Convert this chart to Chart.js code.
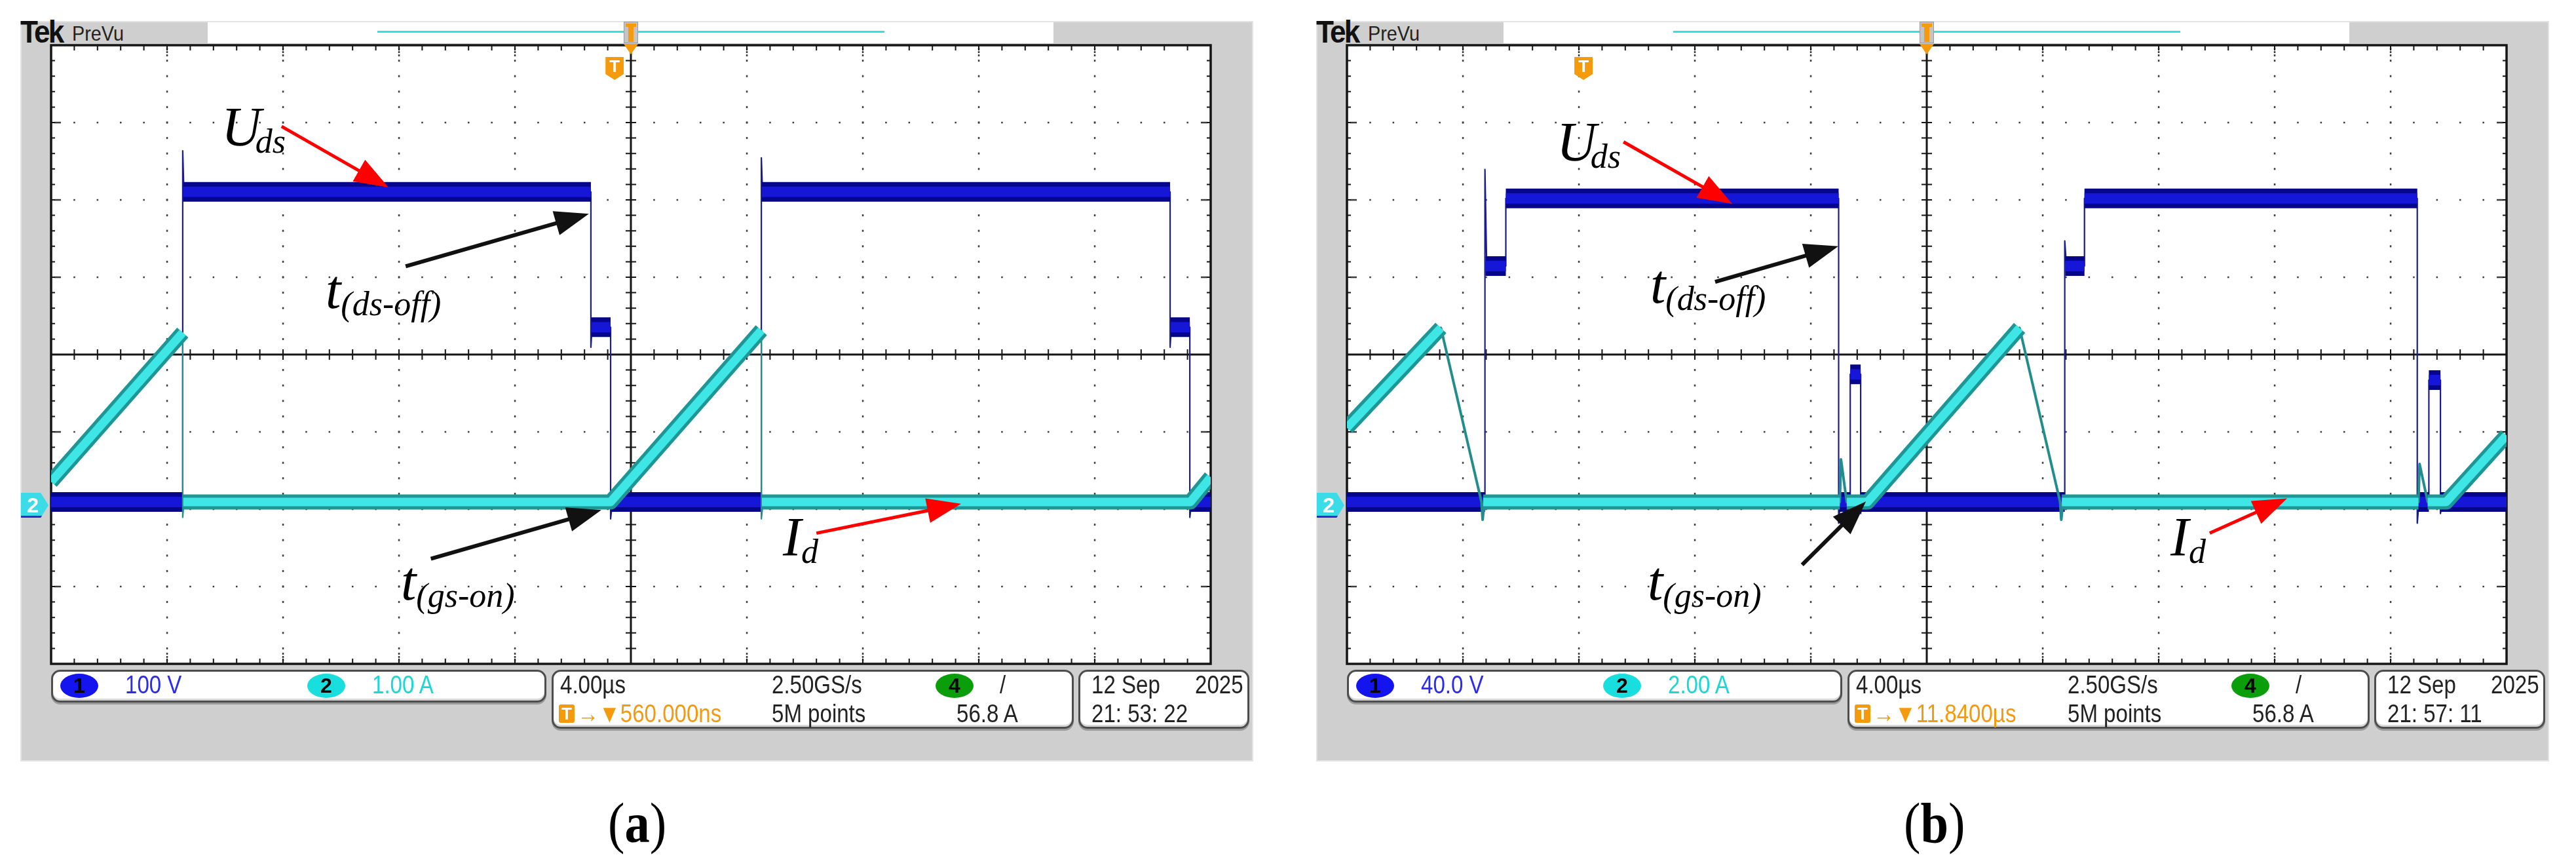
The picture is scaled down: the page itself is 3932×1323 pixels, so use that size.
<!DOCTYPE html>
<html>
<head>
<meta charset="utf-8">
<title>Uds / Id switching waveforms</title>
<script src="https://cdn.jsdelivr.net/npm/chart.js@4.4.1/dist/chart.umd.min.js"></script>
<style>
  html, body { margin: 0; padding: 0; background: #fff; }
  body { position: relative; width: 3932px; height: 1323px; overflow: hidden; }
  .abs { position: absolute; }
  .bezel { background: #cfcfcf; border: 2px solid #e3e3e3; box-sizing: border-box; }
  .strip { background: #fff; }
  .tek { font: bold 49px "Liberation Sans", Arial, sans-serif; line-height: 49px; color: #111; letter-spacing: -3px; transform: scaleX(0.9); transform-origin: 0 0; }
  .prevu { font: 32px "Liberation Sans", Arial, sans-serif; line-height: 32px; color: #222; transform: scaleX(0.9); transform-origin: 0 0; }
  .box { background: #fff; border: 3px solid #4d4d4d; border-radius: 14px; box-sizing: border-box; box-shadow: inset 0 -3px 0 #d8d8d8, 0 3px 0 #9a9a9a; }
  .st { font: 38px "Liberation Sans", Arial, sans-serif; line-height: 38px; white-space: nowrap; color: #222; transform: scaleX(0.87); transform-origin: 0 0; }
  .chip { border-radius: 50%; font: bold 32px "Liberation Sans", Arial, sans-serif; line-height: 37px; color: #000; text-align: center; }
  .ticon { background: #f59a0c; color: #fff; font: bold 26px "Liberation Sans", Arial, sans-serif; line-height: 28px; text-align: center; border-radius: 3px; }
  .ann { font: italic 84px "Liberation Serif", "Times New Roman", serif; line-height: 84px; color: #000; white-space: nowrap; }
  .ann .s { font-size: 52px; position: relative; top: 11px; }
  .cap { font: 86px "Liberation Serif", "Times New Roman", serif; line-height: 86px; color: #000; white-space: nowrap; transform: scaleX(0.89); transform-origin: 0 0; }
</style>
</head>
<body>
<script>
// time base: 4.00 us/div, 10 div on screen
const timeMin = 0, timeMax = 40;
// ground marker of both channels, in divisions from screen centre
const gndDiv = -1.906;

// ---- (a) ch1 100 V/div, ch2 1.00 A/div ----
const voltsPerDivA = 100, ampsPerDivA = 1.0, trigDelayA = 0.56;
// Uds thin trace (edges, spikes)
const udsA_t = [0, 4.54, 4.54, 4.58, 18.62, 18.62, 18.66, 19.30, 19.30, 19.36, 24.50, 24.50, 24.54, 38.60, 38.60, 38.64, 39.28, 39.28, 39.34, 40];
const udsA_v = [0, 0, 454, 401, 401, 200, 226, 226, -22, 0, 0, 445, 401, 401, 200, 226, 226, -20, 0, 0];
// Uds noisy levels (drawn as a wide band)
const udsA_bandT = [0, 4.54, null, 4.56, 18.62, null, 18.64, 19.30, null, 19.32, 24.50, null, 24.52, 38.60, null, 38.62, 39.28, null, 39.30, 40];
const udsA_bandV = [0, 0, null, 401, 401, null, 226, 226, null, 0, 0, null, 401, 401, null, 226, 226, null, 0, 0];
// Id thin trace
const idA_t = [0, 4.54, 4.54, 4.58, 19.30, 24.50, 24.50, 24.56, 39.30, 40];
const idA_v = [0.26, 2.19, -0.20, 0, 0, 2.22, -0.22, 0, 0, 0.32];
// Id band (ramps and flat part)
const idA_bandT = [0, 4.54, null, 4.56, 19.30, 24.50, null, 24.52, 39.30, 40];
const idA_bandV = [0.26, 2.19, null, 0, 0, 2.22, null, 0, 0, 0.32];

// ---- (b) ch1 40.0 V/div, ch2 2.00 A/div ----
const voltsPerDivB = 40, ampsPerDivB = 2.0, trigDelayB = 11.84;
const udsB_t = [0, 4.76, 4.76, 4.82, 5.48, 5.48, 16.96, 16.96, 17.02, 17.36, 17.36, 17.72, 17.72, 17.78, 24.76, 24.76, 24.82, 25.44, 25.44, 36.92, 36.92, 36.98, 37.32, 37.32, 37.72, 37.72, 37.78, 40];
const udsB_v = [0, 0, 172, 122, 122, 157, 157, -11, 0, 0, 66, 66, -6, 0, 0, 135, 122, 122, 157, 157, -11, 0, 0, 63, 63, -6, 0, 0];
const udsB_bandT = [0, 4.76, null, 4.78, 5.48, null, 5.48, 16.96, null, 16.98, 17.36, null, 17.36, 17.72, null, 17.72, 24.76, null, 24.78, 25.44, null, 25.44, 36.92, null, 36.94, 37.32, null, 37.32, 37.72, null, 37.72, 40];
const udsB_bandV = [0, 0, null, 122, 122, null, 157, 157, null, 0, 0, null, 66, 66, null, 0, 0, null, 122, 122, null, 157, 157, null, 0, 0, null, 63, 63, null, 0, 0];
const idB_t = [0, 3.24, 4.64, 4.68, 4.74, 17.0, 17.04, 17.24, 17.96, 23.2, 24.6, 24.64, 24.7, 36.96, 37.0, 37.28, 37.92, 40];
const idB_v = [1.92, 4.5, 0, -0.46, 0, 0, 1.1, 0, 0, 4.5, 0, -0.46, 0, 0, 0.98, 0, 0, 1.72];
const idB_bandT = [0, 3.24, null, 4.70, 17.0, null, 17.24, 17.96, 23.2, null, 24.66, 36.96, null, 37.28, 37.92, 40];
const idB_bandV = [1.92, 4.5, null, 0, 0, null, 0, 0, 4.5, null, 0, 0, null, 0, 0, 1.72];

// status bar readouts
const statusA = ["100 V", "1.00 A", "4.00\u00b5s", "\u2192\u25bc560.000ns", "2.50GS/s", "5M points", "56.8 A", "12 Sep", "2025", "21: 53: 22"];
const statusB = ["40.0 V", "2.00 A", "4.00\u00b5s", "\u2192\u25bc11.8400\u00b5s", "2.50GS/s", "5M points", "56.8 A", "12 Sep", "2025", "21: 57: 11"];

// annotation arrows: tail (t, div) -> tip (t, div)
const arrowsA_t1 = [7.95, 12.23, 13.1, 26.4];
const arrowsA_y1 = [2.95, 1.14, -2.64, -2.31];
const arrowsA_t2 = [11.64, 18.55, 18.98, 31.39];
const arrowsA_y2 = [2.16, 1.82, -2.01, -1.93];
const arrowsB_t1 = [9.54, 12.70, 15.7, 29.76];
const arrowsB_y1 = [2.75, 0.94, -2.72, -2.31];
const arrowsB_t2 = [13.29, 16.95, 17.90, 32.43];
const arrowsB_y2 = [1.95, 1.40, -1.90, -1.86];
const arrowColors = ["#ff0000", "#111111", "#111111", "#ff0000"];

function pts(ts, vs) {
    return ts.map((t, i) => ({ x: t === null ? ts[i - 1] : t, y: vs[i] }));
}

function el(cls, left, top, w, h, css) {
    const d = document.createElement("div");
    d.className = "abs " + (cls || "");
    d.style.left = left + "px";
    d.style.top = top + "px";
    if (w != null) d.style.width = w + "px";
    if (h != null) d.style.height = h + "px";
    if (css) Object.assign(d.style, css);
    document.body.appendChild(d);
    return d;
}

function drawArrow(ctx, x1, y1, x2, y2, color, shaft, headLen, headHalf) {
    const a = Math.atan2(y2 - y1, x2 - x1);
    const bx = x2 - headLen * Math.cos(a), by = y2 - headLen * Math.sin(a);
    ctx.strokeStyle = color;
    ctx.lineWidth = shaft;
    ctx.lineCap = "butt";
    ctx.beginPath();
    ctx.moveTo(x1, y1);
    ctx.lineTo(bx + 2 * Math.cos(a), by + 2 * Math.sin(a));
    ctx.stroke();
    ctx.fillStyle = color;
    ctx.beginPath();
    ctx.moveTo(x2, y2);
    ctx.lineTo(bx + headHalf * Math.sin(a), by - headHalf * Math.cos(a));
    ctx.lineTo(bx - headHalf * Math.sin(a), by + headHalf * Math.cos(a));
    ctx.closePath();
    ctx.fill();
}

// scope graticule: 10 x 8 div, 5 minor steps per div
const graticule = {
    id: "graticule",
    beforeDatasetsDraw(chart) {
        const { ctx, chartArea: a, scales } = chart;
        const x = scales.x, yd = scales.yd;
        ctx.save();
        ctx.fillStyle = "#fff";
        ctx.fillRect(a.left, a.top, a.right - a.left, a.bottom - a.top);
        ctx.fillStyle = "#3c3c3c";
        for (let i = 1; i < 10; i++) {
            if (i === 5) continue;
            const px = x.getPixelForValue(i * 4);
            for (let k = 1; k < 40; k++) {
                ctx.fillRect(px - 1.2, yd.getPixelForValue(-4 + k * 0.2) - 1.5, 2.5, 3);
            }
            for (let k = 0; k < 3; k++) {
                ctx.fillRect(px - 1.2, a.top + 4 + k * 5, 2.5, 3);
                ctx.fillRect(px - 1.2, a.bottom - 7 - k * 5, 2.5, 3);
            }
        }
        for (let j = -3; j <= 3; j++) {
            if (j === 0) continue;
            const py = yd.getPixelForValue(j);
            for (let k = 1; k < 50; k++) {
                ctx.fillRect(x.getPixelForValue(k * 0.8) - 1.2, py - 1.2, 2.5, 2.5);
            }
            ctx.fillRect(a.left + 5, py - 1.2, 10, 2.5);
            ctx.fillRect(a.right - 15, py - 1.2, 10, 2.5);
        }
        // centre cross with minor ticks
        const cx = x.getPixelForValue(20), cy = yd.getPixelForValue(0);
        ctx.strokeStyle = "#151515";
        ctx.lineWidth = 3;
        ctx.beginPath();
        ctx.moveTo(a.left, cy); ctx.lineTo(a.right, cy);
        ctx.moveTo(cx, a.top); ctx.lineTo(cx, a.bottom);
        ctx.stroke();
        ctx.lineWidth = 2;
        ctx.beginPath();
        for (let k = 1; k < 50; k++) {
            const px = x.getPixelForValue(k * 0.8);
            ctx.moveTo(px, cy - 8); ctx.lineTo(px, cy + 8);
            ctx.moveTo(px, a.top); ctx.lineTo(px, a.top + 8);
            ctx.moveTo(px, a.bottom); ctx.lineTo(px, a.bottom - 8);
        }
        for (let k = 1; k < 40; k++) {
            const py = yd.getPixelForValue(-4 + k * 0.2);
            ctx.moveTo(cx - 8, py); ctx.lineTo(cx + 8, py);
            ctx.moveTo(a.left, py); ctx.lineTo(a.left + 6, py);
            ctx.moveTo(a.right, py); ctx.lineTo(a.right - 6, py);
        }
        ctx.stroke();
        ctx.lineWidth = 3.5;
        ctx.strokeRect(a.left, a.top, a.right - a.left, a.bottom - a.top);
        ctx.restore();
    },
    afterDatasetsDraw(chart, args, opts) {
        const { ctx, scales } = chart;
        const x = scales.x, yd = scales.yd;
        ctx.save();
        opts.t1.forEach((t, i) => {
            const red = opts.colors[i] === "#ff0000";
            drawArrow(ctx, x.getPixelForValue(t), yd.getPixelForValue(opts.y1[i]),
                x.getPixelForValue(opts.t2[i]), yd.getPixelForValue(opts.y2[i]),
                opts.colors[i], red ? 5 : 6, 52, 19);
        });
        ctx.restore();
    }
};

function buildPanel(X, p) {
    const P = 78 + X; // plot left edge
    el("bezel", 31 + X, 32, 1882, 1130);
    el("strip", 317 + X, 34, 1291, 32);
    el("tek", 31 + X, 24).textContent = "Tek";
    el("prevu", 110 + X, 35).textContent = "PreVu";
    el("", 576 + X, 47, 774, 3, { background: "#2fe3e3" });

    const canvas = document.createElement("canvas");
    canvas.width = 1798; canvas.height = 972;
    canvas.className = "abs";
    canvas.style.left = (P - 14) + "px";
    canvas.style.top = "55px";
    document.body.appendChild(canvas);

    const y1min = (-4 - gndDiv) * p.vpd, y1max = (4 - gndDiv) * p.vpd;
    const y2min = (-4 - gndDiv) * p.apd, y2max = (4 - gndDiv) * p.apd;
    const line = (data, axis, color, width, order) => ({
        data, yAxisID: axis, borderColor: color, borderWidth: width, order,
        pointRadius: 0, tension: 0, fill: false, spanGaps: false,
        borderCapStyle: "butt", borderJoinStyle: "round", clip: 0
    });

    const chart = new Chart(canvas.getContext("2d"), {
        type: "line",
        data: {
            datasets: [
                line(pts(p.udsT, p.udsV), "y1", "#1c1c8c", 2.2, 6),
                line(pts(p.udsBandT, p.udsBandV), "y1", "#06068a", 30, 5),
                line(pts(p.udsBandT, p.udsBandV), "y1", "#1616d8", 16, 4),
                line(pts(p.idT, p.idV), "y2", "#238c8c", p.idThin, 3),
                line(pts(p.idBandT, p.idBandV), "y2", "#1f9696", 23, 2),
                line(pts(p.idBandT, p.idBandV), "y2", "#3fe6e6", 13, 1)
            ]
        },
        options: {
            responsive: false,
            animation: false,
            devicePixelRatio: 1,
            layout: { padding: 14 },
            events: [],
            scales: {
                x: { type: "linear", min: timeMin, max: timeMax, display: false },
                yd: { type: "linear", min: -4, max: 4, display: false },
                y1: { type: "linear", min: y1min, max: y1max, display: false },
                y2: { type: "linear", min: y2min, max: y2max, display: false }
            },
            plugins: {
                legend: { display: false },
                tooltip: { enabled: false },
                graticule: { t1: p.at1, y1: p.ay1, t2: p.at2, y2: p.ay2, colors: arrowColors }
            }
        },
        plugins: [graticule]
    });

    // trigger position markers from the scale
    const cx = chart.scales.x.getPixelForValue(20) + P - 14;
    const tx = chart.scales.x.getPixelForValue(20 - p.delay) + P - 14;
    el("", cx - 11, 33, 22, 33, { background: "#c4c4c4", border: "1px solid #9a9a9a", boxSizing: "border-box" });
    el("", cx - 4, 38, 8, 26, { background: "#f59a0c" });
    el("", cx - 8, 36, 16, 5, { background: "#f59a0c" });
    el("", cx - 11, 67, 22, 16, { background: "#f59a0c", clipPath: "polygon(0 0,100% 0,50% 100%)" });
    const tm = el("", tx - 14, 87, 28, 35, { background: "#f59a0c", clipPath: "polygon(0 0,100% 0,100% 74%,50% 100%,0 74%)",
        color: "#fff", font: "bold 26px 'Liberation Sans', Arial, sans-serif", lineHeight: "28px", textAlign: "center" });
    tm.textContent = "T";

    // ch2 ground marker
    const g = el("", P - 46, 752, 42, 38, { background: "#3cdbe8", clipPath: "polygon(0 0,72% 0,100% 50%,72% 100%,0 100%)",
        color: "#fff", font: "bold 32px 'Liberation Sans', Arial, sans-serif", lineHeight: "38px", paddingLeft: "9px", boxSizing: "border-box",
        borderBottom: "3px solid #2a2ad0" });
    g.textContent = "2";

    // status bar
    const s = p.status;
    el("box", P, 1022, 756, 50);
    el("box", P + 764, 1022, 797, 90);
    el("box", P + 1568, 1022, 261, 90);
    el("chip", P + 14, 1028, 58, 37, { background: "#1414ee" }).textContent = "1";
    el("st", P + 113, 1026, null, null, { color: "#2b2bf2" }).textContent = s[0];
    el("chip", P + 391, 1028, 58, 37, { background: "#19dede" }).textContent = "2";
    el("st", P + 490, 1026, null, null, { color: "#19d8d8" }).textContent = s[1];
    el("st", P + 777, 1026).textContent = s[2];
    el("ticon", P + 775, 1075, 24, 28).textContent = "T";
    el("st", P + 803, 1070, null, null, { color: "#f59a0c" }).textContent = s[3];
    el("st", P + 1100, 1026).textContent = s[4];
    el("st", P + 1100, 1070).textContent = s[5];
    el("chip", P + 1350, 1028, 58, 37, { background: "#0a9f0a" }).textContent = "4";
    el("st", P + 1448, 1026).textContent = "/";
    el("st", P + 1382, 1070).textContent = s[6];
    el("st", P + 1588, 1026).textContent = s[7];
    el("st", P + 1746, 1026).textContent = s[8];
    el("st", P + 1588, 1070).textContent = s[9];

    // curve labels
    p.labels.forEach(([main, sub, left, base, shift]) => {
        const d = el("ann", left, base - 70);
        d.innerHTML = main + '<span class="s" style="margin-left:' + shift + 'px">' + sub + "</span>";
    });
    const c = el("cap", p.capLeft, 1213);
    c.innerHTML = '(<b>' + p.cap + '</b>)';
}

buildPanel(0, {
    vpd: voltsPerDivA, apd: ampsPerDivA, delay: trigDelayA, idThin: 2.2,
    udsT: udsA_t, udsV: udsA_v, udsBandT: udsA_bandT, udsBandV: udsA_bandV,
    idT: idA_t, idV: idA_v, idBandT: idA_bandT, idBandV: idA_bandV,
    at1: arrowsA_t1, ay1: arrowsA_y1, at2: arrowsA_t2, ay2: arrowsA_y2,
    status: statusA, cap: "a", capLeft: 928,
    labels: [["U", "ds", 338, 222, -9], ["t", "(ds-off)", 497, 470, 0], ["t", "(gs-on)", 612, 915, 0], ["I", "d", 1195, 848, 0]]
});
buildPanel(1978, {
    vpd: voltsPerDivB, apd: ampsPerDivB, delay: trigDelayB, idThin: 4,
    udsT: udsB_t, udsV: udsB_v, udsBandT: udsB_bandT, udsBandV: udsB_bandV,
    idT: idB_t, idV: idB_v, idBandT: idB_bandT, idBandV: idB_bandV,
    at1: arrowsB_t1, ay1: arrowsB_y1, at2: arrowsB_t2, ay2: arrowsB_y2,
    status: statusB, cap: "b", capLeft: 2906,
    labels: [["U", "ds", 2376, 245, -9], ["t", "(ds-off)", 2519, 462, 0], ["t", "(gs-on)", 2515, 915, 0], ["I", "d", 3313, 848, 0]]
});
</script>
</body>
</html>
